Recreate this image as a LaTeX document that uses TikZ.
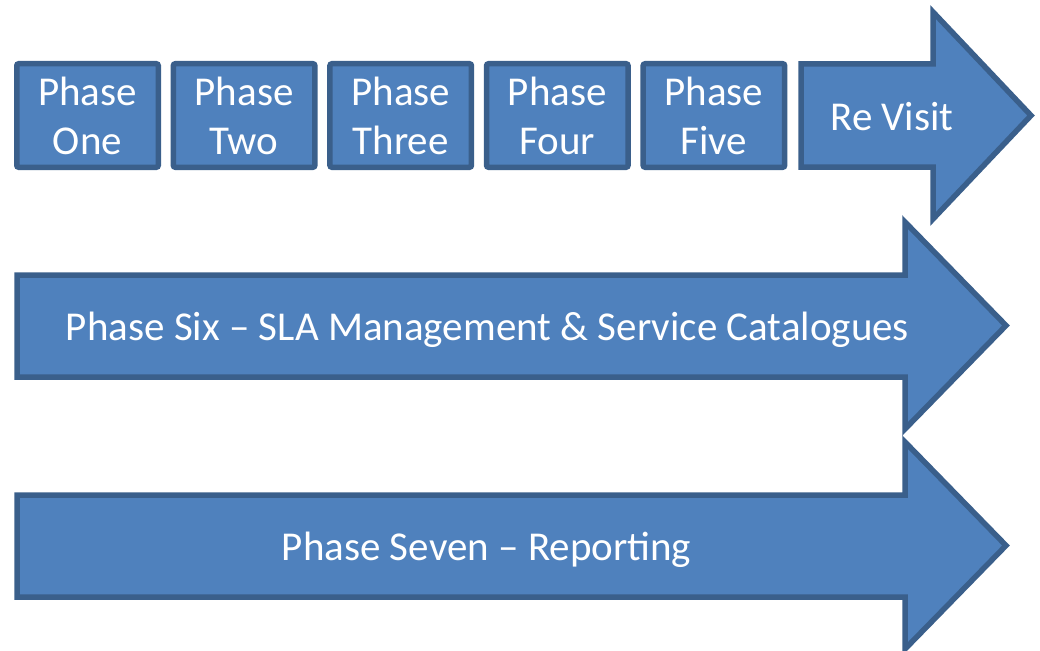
\documentclass[tikz,border=0pt]{standalone}
\usepackage{fontspec}
\setmainfont{Carlito}
\definecolor{phasefill}{HTML}{4F81BD}
\definecolor{phaseline}{HTML}{3A5F8B}
\begin{document}
\begin{tikzpicture}[x=1pt,y=-1pt,
  shapestyle/.style={fill=phasefill,draw=phaseline,line width=5.5pt,line join=miter},
  phasebox/.style={shapestyle,rounded corners=2pt,minimum width=141.5pt,minimum height=103.5pt,
    inner sep=0pt,align=center,text=white,font=\fontsize{41}{49}\selectfont},
  label/.style={text=white,font=\fontsize{41}{49}\selectfont,inner sep=0pt,anchor=base}]
\useasboundingbox (0,0) rectangle (1040,650);
% top row of phase boxes
\node[phasebox] (p1) at (87.5,115.5) {Phase\\One};
\node[phasebox] (p2) at (244.1,115.5) {Phase\\Two};
\node[phasebox] (p3) at (400.7,115.5) {Phase\\Three};
\node[phasebox] (p4) at (557.3,115.5) {Phase\\Four};
\node[phasebox] (p5) at (713.9,115.5) {Phase\\Five};
% re-visit arrow
\draw[shapestyle] (801,64) -- (933,64) -- (933,12) -- (1031,115.5) -- (933,219)
  -- (933,167) -- (801,167) -- cycle;
\node[label] (rv) at (892,130) {Re Visit};
% phase six arrow
\draw[shapestyle] (17,275) -- (905,275) -- (905,222) -- (1006,325.5) -- (905,429)
  -- (905,377) -- (17,377) -- cycle;
\node[label] (p6) at (487.5,340) {Phase Six – SLA Management \& Service Catalogues};
% phase seven arrow
\draw[shapestyle] (17,495) -- (905,495) -- (905,442) -- (1006,545.5) -- (905,649)
  -- (905,597) -- (17,597) -- cycle;
\node[label] (p7) at (486.5,560) {Phase Seven – Reporting};
\end{tikzpicture}
\end{document}
